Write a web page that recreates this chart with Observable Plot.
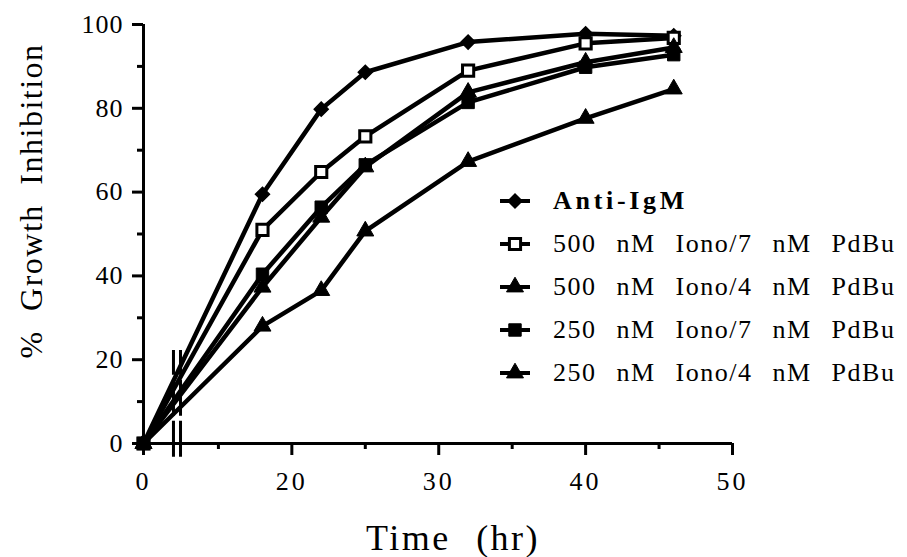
<!DOCTYPE html>
<html><head><meta charset="utf-8">
<script src="https://cdn.jsdelivr.net/npm/d3@7"></script>
<script src="https://cdn.jsdelivr.net/npm/@observablehq/plot@0.6"></script>
<style>
html,body{margin:0;padding:0;background:#fff;}
#chart{position:relative;width:907px;height:557px;font-family:"Liberation Serif",serif;}
#chart svg.overlay{position:absolute;left:0;top:0;}
[aria-label="x-axis tick label"] text{letter-spacing:3px;}
[aria-label="y-axis tick label"] text{letter-spacing:1px;}
</style></head><body><div id="chart"></div>
<script>
// ---- data ----
const times = [0, 18, 22, 25, 32, 40, 46];
const seriesNames = ["Anti-IgM", "500 nM Iono/7 nM PdBu", "500 nM Iono/4 nM PdBu", "250 nM Iono/7 nM PdBu", "250 nM Iono/4 nM PdBu"];
const antiIgM      = [0, 59.5, 79.8, 88.6, 95.8, 97.8, 97.3];
const iono500pdbu7 = [0, 51.0, 64.8, 73.3, 89.0, 95.5, 96.8];
const iono500pdbu4 = [0, 37.3, 54.0, 66.0, 83.8, 91.0, 94.5];
const iono250pdbu7 = [0, 40.4, 56.4, 66.5, 81.4, 89.8, 92.8];
const iono250pdbu4 = [0, 28.0, 36.5, 50.7, 67.3, 77.6, 84.6];
const seriesValues = [antiIgM, iono500pdbu7, iono500pdbu4, iono250pdbu7, iono250pdbu4];
const xMajorTicks = [0, 20, 30, 40, 50];
const xMinorTicks = [15, 25, 35, 45];
const yMajorTicks = [0, 20, 40, 60, 80, 100];
const yMinorTicks = [10, 30, 50, 70, 90];
const axisBreaks = [11.66, 12.42]; // time units where the "//" break marks sit

// broken x axis: the 0–12 h stretch is compressed
const toAxis = d3.scaleLinear().domain([0, 12, 50]).range([9.9, 12, 50]);

// ---- styles ----
const markerStyles = [
  {symbol: "diamond2", fill: "black", r: 6.3, strokeWidth: 1.5},
  {symbol: "square", fill: "white", r: 6.3, strokeWidth: 3},
  {symbol: "triangle", fill: "black", r: 6.3, strokeWidth: 1},
  {symbol: "square", fill: "black", r: 7, strokeWidth: 1},
  {symbol: "triangle", fill: "black", r: 6.3, strokeWidth: 1}
];

const data = seriesNames.flatMap((name, i) =>
  seriesValues[i].map((v, j) => ({series: name, time: times[j], value: v})));

const W = 907, H = 557;
const fmtX = d => String(Math.round(toAxis.invert(d)));
const plot = Plot.plot({
  width: W, height: H,
  marginLeft: 143, marginRight: 175, marginTop: 24, marginBottom: 114,
  x: {domain: [toAxis(0), toAxis(50)]},
  y: {domain: [0, 100]},
  style: {fontFamily: "'Liberation Serif', serif", fontSize: "26px", color: "black", background: "white", overflow: "visible"},
  marks: [
    Plot.line(data, {x: d => toAxis(d.time), y: "value", z: "series", stroke: "black", strokeWidth: 4.5, strokeLinejoin: "round"}),
    Plot.ruleY([0], {stroke: "black", strokeWidth: 3}),
    Plot.ruleX([toAxis(0)], {stroke: "black", strokeWidth: 3}),
    Plot.axisX({ticks: xMajorTicks.map(toAxis), tickSize: 12, tickPadding: 16, strokeWidth: 3, fontSize: 26, label: null, tickFormat: fmtX}),
    Plot.axisX({ticks: xMinorTicks.map(toAxis), tickSize: 6, strokeWidth: 3, text: null, label: null}),
    Plot.axisY({ticks: yMajorTicks, tickSize: 11, tickPadding: 9, strokeWidth: 3, fontSize: 26, label: null, tickFormat: d => String(d)}),
    Plot.axisY({ticks: yMinorTicks, tickSize: 6, strokeWidth: 3, text: null, label: null}),
    Plot.ruleX(axisBreaks.map(toAxis), {y1: -3.3, y2: 22.2, stroke: "black", strokeWidth: 3, strokeDasharray: "36,5"}),
    ...seriesNames.map((name, i) => Plot.dot(data.filter(d => d.series === name), {
      x: d => toAxis(d.time), y: "value", symbol: () => markerStyles[i].symbol, r: markerStyles[i].r,
      fill: markerStyles[i].fill, stroke: "black", strokeWidth: markerStyles[i].strokeWidth
    })),
    Plot.text(["Time (hr)"], {frameAnchor: "bottom", dx: 15, dy: 106, lineAnchor: "bottom", textAnchor: "middle", fontSize: 36}),
    Plot.text(["% Growth Inhibition"], {frameAnchor: "left", rotate: -90, dx: -102, dy: -33, lineAnchor: "bottom", textAnchor: "middle", fontSize: 32})
  ]
});
const chart = document.getElementById("chart");
chart.appendChild(plot);
d3.select(plot).selectAll("text").filter(function(){ return this.textContent === "Time (hr)"; })
  .style("letter-spacing", "2.5px").style("word-spacing", "14px");
d3.select(plot).selectAll("text").filter(function(){ return this.textContent === "% Growth Inhibition"; })
  .style("letter-spacing", "1.5px").style("word-spacing", "10px");

// ---- legend overlay ----
const legend = d3.select(chart).append("svg").attr("class", "overlay")
  .attr("width", W).attr("height", H);
const lx = 500, ly0 = 201, lstep = 43;
seriesNames.forEach((name, i) => {
  const g = legend.append("g").attr("transform", `translate(${lx},${ly0 + i * lstep})`);
  g.append("line").attr("x1", 0).attr("x2", 30).attr("stroke", "black").attr("stroke-width", 4);
  const ms = markerStyles[i];
  const symType = {diamond2: d3.symbolDiamond2, square: d3.symbolSquare, triangle: d3.symbolTriangle}[ms.symbol];
  g.append("path").attr("transform", "translate(15,0)")
    .attr("d", d3.symbol(symType, Math.PI * ms.r * ms.r)())
    .attr("fill", ms.fill).attr("stroke", "black").attr("stroke-width", ms.strokeWidth);
  g.append("text").attr("x", 53).attr("y", 8)
    .attr("font-family", "'Liberation Serif', serif").attr("font-size", 26)
    .attr("font-weight", i === 0 ? "bold" : "normal")
    .style("letter-spacing", i === 0 ? "3.7px" : "1.5px")
    .style("word-spacing", "12px")
    .text(name);
});
</script></body></html>
